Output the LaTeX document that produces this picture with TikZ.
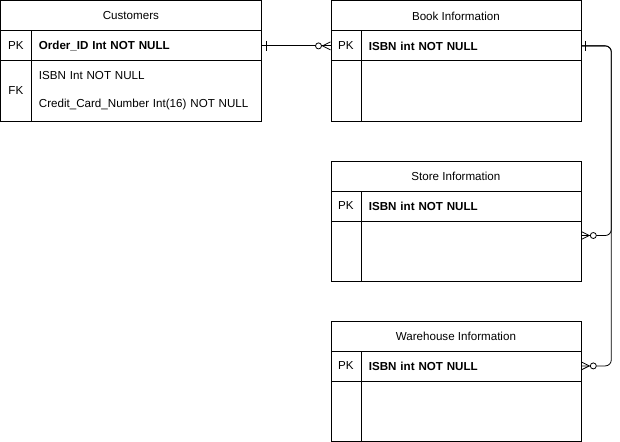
\documentclass[tikz,border=0pt]{standalone}
\usepackage{fontspec}
\setmainfont{Liberation Sans}
\usetikzlibrary{positioning,calc}

\begin{document}
\begin{tikzpicture}[
    x=1pt, y=-1pt, line width=0.8pt,
    font=\fontsize{11.6}{13}\selectfont,
    cell/.style={draw, rectangle, inner sep=0pt, minimum height=30pt},
    keycell/.style={cell, minimum width=30pt},
    fieldcell/.style={cell, inner xsep=8pt, align=left}
]
    \useasboundingbox (-0.5,-0.5) rectangle (619.5,440.5);

    % Customers table
    \node[cell, minimum width=260pt, anchor=north west] (cust) at (0,0) {Customers};
    \node[keycell, anchor=north west] (cust-pk) at (0,30) {PK};
    \node[fieldcell, text width=214pt, anchor=north west] (cust-pkf) at (30,30) {\textbf{Order\_ID Int NOT NULL}};
    \node[keycell, minimum height=60pt, anchor=north west] (cust-fk) at (0,60) {FK};
    \node[fieldcell, text width=214pt, minimum height=60pt, anchor=north west,
          font=\fontsize{11.6}{28}\selectfont] (cust-fkf) at (30,60)
          {ISBN Int NOT NULL\\Credit\_Card\_Number Int(16) NOT NULL};

    % the three information tables
    \foreach \nm/\ttl/\yy in {book/Book Information/0, store/Store Information/160, ware/Warehouse Information/320} {
        \node[cell, minimum width=250pt, anchor=north west] (\nm) at (330,\yy) {\ttl};
        \node[keycell, anchor=north west] (\nm-pk) at (330,\yy+30) {PK};
        \node[fieldcell, text width=204pt, anchor=north west] (\nm-pkf) at (360,\yy+30) {\textbf{ISBN int NOT NULL}};
        \node[keycell, minimum height=60pt, anchor=north west] (\nm-fk) at (330,\yy+60) {};
        \node[cell, minimum width=220pt, minimum height=60pt, anchor=north west] (\nm-fkf) at (360,\yy+60) {};
    }

    % Customers -- Book
    \draw (cust-pkf.east) -- (book-pk.west);
    \draw ($(cust-pkf.east)+(5,-5)$) -- ++(0,10);
    \draw ($(book-pk.west)+(-8,0)$) -- ($(book-pk.west)+(0,-4)$);
    \draw ($(book-pk.west)+(-8,0)$) -- ($(book-pk.west)+(0,4)$);
    \draw[fill=white] ($(book-pk.west)+(-12,0)$) circle (3pt);

    % Book -- Store, Book -- Warehouse
    \coordinate (store-end) at ($(store-fkf.north east)+(0,15)$);
    \coordinate (ware-end) at (ware-pkf.east);
    \draw[rounded corners=6pt] (book-pkf.east) -- ++(30,0) |- (store-end);
    \draw[rounded corners=6pt] (book-pkf.east) -- ++(30,0) |- (ware-end);
    \draw ($(book-pkf.east)+(4,-5)$) -- ++(0,10);
    \foreach \e in {store-end, ware-end} {
        \draw ($(\e)+(8,0)$) -- ($(\e)+(0,-4)$);
        \draw ($(\e)+(8,0)$) -- ($(\e)+(0,4)$);
        \draw[fill=white] ($(\e)+(12,0)$) circle (3pt);
    }
\end{tikzpicture}
\end{document}
